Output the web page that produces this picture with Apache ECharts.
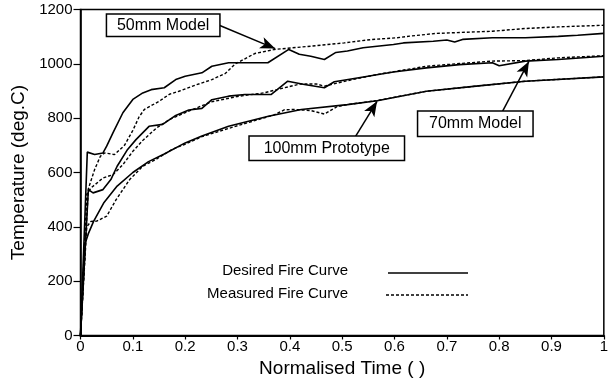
<!DOCTYPE html>
<html style="height: 100%">
<head>
<meta charset="utf-8">
</head>
<body style="height: 100%; margin: 0; background: #fff">
<div id="container" style="width: 611px; height: 386px"></div>
<script src="https://cdn.jsdelivr.net/npm/echarts@6/dist/echarts.min.js"></script>
<script type="text/javascript">

// desired (solid) and measured (dashed) fire curves, [normalised time, deg.C]
var desired50 = [[0,0],[0.013,675],[0.027,666],[0.043,672],[0.05,697],[0.062,746],[0.081,820],[0.1,869],[0.119,893],[0.135,905],[0.16,912],[0.182,942],[0.2,954],[0.232,967],[0.251,991],[0.283,1004],[0.358,1004],[0.398,1053],[0.418,1035],[0.44,1028],[0.466,1016],[0.488,1042],[0.51,1047],[0.54,1059],[0.598,1071],[0.617,1077],[0.674,1083],[0.7,1088],[0.715,1080],[0.73,1090],[0.787,1096],[0.85,1096],[0.913,1101],[0.95,1105],[1,1112]];
var measured50 = [[0,0],[0.015,540],[0.027,611],[0.038,660],[0.046,672],[0.065,666],[0.084,700],[0.1,755],[0.112,805],[0.122,832],[0.15,862],[0.17,888],[0.188,899],[0.22,922],[0.251,942],[0.277,965],[0.296,1000],[0.333,1038],[0.371,1053],[0.44,1065],[0.504,1077],[0.554,1089],[0.605,1096],[0.629,1102],[0.68,1112],[0.787,1120],[0.85,1130],[0.913,1136],[1,1142]];
var desired70 = [[0,0],[0.015,537],[0.024,525],[0.043,537],[0.058,574],[0.07,623],[0.09,685],[0.106,721],[0.131,770],[0.157,777],[0.182,810],[0.207,830],[0.232,836],[0.251,868],[0.283,881],[0.314,887],[0.364,887],[0.396,936],[0.428,924],[0.466,912],[0.485,934],[0.529,948],[0.598,970],[0.661,985],[0.724,997],[0.787,1004],[0.8,993],[0.85,1010],[0.913,1016],[1,1028]];
var measured70 = [[0,0],[0.012,520],[0.02,543],[0.043,580],[0.062,592],[0.081,629],[0.1,678],[0.12,720],[0.146,765],[0.17,795],[0.207,826],[0.25,860],[0.3,880],[0.35,893],[0.39,912],[0.42,926],[0.45,926],[0.466,918],[0.51,938],[0.567,961],[0.661,991],[0.724,1001],[0.787,1010],[0.85,1012],[0.913,1022],[1,1030]];
var desired100 = [[0,0],[0.009,340],[0.015,375],[0.025,420],[0.045,490],[0.07,550],[0.1,600],[0.13,640],[0.16,668],[0.2,709],[0.232,734],[0.283,770],[0.359,807],[0.422,832],[0.51,850],[0.567,864],[0.661,899],[0.756,918],[0.85,936],[1,952]];
var measured100 = [[0,0],[0.012,400],[0.02,420],[0.031,421],[0.05,439],[0.068,500],[0.094,574],[0.119,623],[0.144,648],[0.175,685],[0.201,705],[0.232,732],[0.296,770],[0.37,812],[0.39,831],[0.41,832],[0.44,828],[0.466,815],[0.49,842],[0.51,850],[0.567,865],[0.661,899],[0.756,918],[0.85,936],[1,952]];

// annotation boxes and arrows (data coordinates)
var noteLabels = ['50mm Model', '100mm Prototype', '70mm Model'];
var noteCenters = [[0.158,1142],[0.4706,689],[0.7544,779]];
var arrowFrom = [[0.264,1143],[0.5256,733],[0.8064,825]];
var arrowTo = [[0.372,1056],[0.5667,862],[0.8568,1009]];

var legendNames = ['Desired Fire Curve', 'Measured Fire Curve'];

var FONT = "'Liberation Sans', Arial, Helvetica, sans-serif";
var boxSizes = [[112,21],[154,23],[114,24]];

var dom = document.getElementById("container");
var myChart = echarts.init(dom, null, {renderer: 'canvas'});

function curve(name, data, dashed) {
    return {
        name: name,
        type: 'line',
        data: data,
        symbol: 'none',
        smooth: false,
        silent: true,
        lineStyle: {
            color: '#000',
            width: dashed ? 1.4 : 1.6,
            type: dashed ? [3, 2] : 'solid'
        }
    };
}

var series = [
    curve(legendNames[1], measured50, true),
    curve(legendNames[1], measured70, true),
    curve(legendNames[1], measured100, true),
    curve(legendNames[0], desired50, false),
    curve(legendNames[0], desired70, false),
    curve(legendNames[0], desired100, false)
];

series[3].markLine = {
    silent: true,
    symbol: ['none', 'arrow'],
    symbolSize: [9, 15],
    label: {show: false},
    lineStyle: {color: '#000', width: 1.5, type: 'solid'},
    data: noteLabels.map(function (n, i) {
        return [{coord: arrowFrom[i]}, {coord: arrowTo[i]}];
    })
};
series[3].markPoint = {
    silent: true,
    symbol: 'circle',
    symbolSize: 1,
    itemStyle: {color: 'rgba(0,0,0,0)'},
    data: noteLabels.map(function (n, i) {
        return {
            name: n, coord: noteCenters[i],
            label: {
                show: true, position: 'inside', color: '#000',
                fontSize: 16, fontFamily: FONT,
                backgroundColor: '#fff', borderColor: '#000', borderWidth: 1.5,
                width: boxSizes[i][0], height: boxSizes[i][1], lineHeight: boxSizes[i][1],
                padding: 0, align: 'center', verticalAlign: 'middle',
                formatter: function (p) { return p.name; }
            }
        };
    })
};

var option = {
    animation: false,
    backgroundColor: '#fff',
    grid: {
        left: 80.5, right: 2, top: 9.5, bottom: 50.5,
        show: true, borderColor: '#000', borderWidth: 1.5
    },
    xAxis: {
        type: 'value', min: 0, max: 1, interval: 0.1,
        name: 'Normalised Time ( )',
        nameLocation: 'middle', nameGap: 24,
        nameTextStyle: {color: '#000', fontSize: 19, fontFamily: FONT},
        axisLine: {lineStyle: {color: '#000', width: 2}},
        axisTick: {show: true, length: 4, lineStyle: {color: '#000', width: 1.2}},
        axisLabel: {
            color: '#000', fontSize: 15, fontFamily: FONT, margin: 4,
            formatter: function (v) { return v === 0 ? '0' : v === 1 ? '1' : v.toFixed(1); }
        },
        splitLine: {show: false}
    },
    yAxis: {
        type: 'value', min: 0, max: 1200, interval: 200,
        name: 'Temperature (deg.C)',
        nameLocation: 'middle', nameGap: 52,
        nameTextStyle: {color: '#000', fontSize: 19, fontFamily: FONT},
        axisLine: {show: true, lineStyle: {color: '#000', width: 1.6}},
        axisTick: {show: true, length: 7, lineStyle: {color: '#000', width: 1.2}},
        axisLabel: {
            color: '#000', fontSize: 15, fontFamily: FONT, margin: 8,
            formatter: function (v) { return String(v); }
        },
        splitLine: {show: false}
    },
    graphic: [
        {type: 'text', x: 348, y: 271,
         style: {text: legendNames[0], fill: '#000', font: '15px ' + FONT, textAlign: 'right', textVerticalAlign: 'middle'}},
        {type: 'text', x: 348, y: 294,
         style: {text: legendNames[1], fill: '#000', font: '15px ' + FONT, textAlign: 'right', textVerticalAlign: 'middle'}},
        {type: 'line', shape: {x1: 388, y1: 273, x2: 468, y2: 273},
         style: {stroke: '#000', lineWidth: 1.6}},
        {type: 'line', shape: {x1: 386, y1: 295, x2: 468, y2: 295},
         style: {stroke: '#000', lineWidth: 1.4, lineDash: [3, 2]}}
    ],
    series: series
};

myChart.setOption(option);
</script>
</body>
</html>
